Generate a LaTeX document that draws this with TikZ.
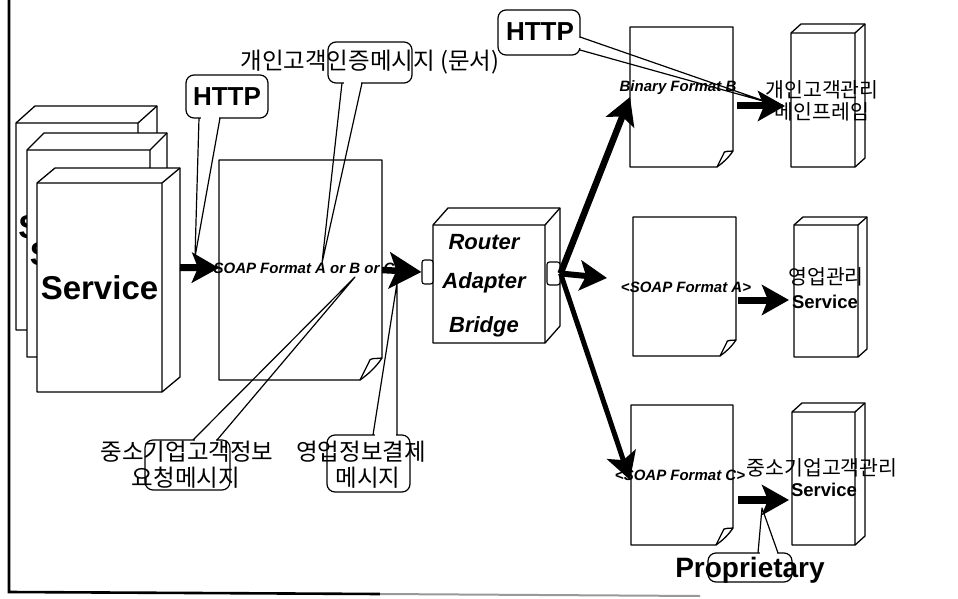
\documentclass[tikz,border=0pt]{standalone}
\usepackage{fontspec}
\setmainfont{Liberation Sans}
\newfontfamily\krfont{Noto Sans CJK KR}
\usetikzlibrary{arrows.meta,calc}

\newcommand\setfs[1]{\fontsize{#1}{#1}\selectfont}

% 3-D box: name, x1, y1, x2, y2 (front face), depth dx, depth dy
\newcommand\cuboid[7]{%
  \filldraw[outline,fill=white] (#2,#3) -- ({#2+#6},{#3-#7}) -- ({#4+#6},{#3-#7})
     -- ({#4+#6},{#5-#7}) -- (#4,#5) -- (#2,#5) -- cycle;
  \draw[outline] (#2,#3) -- (#4,#3) -- (#4,#5) (#4,#3) -- ({#4+#6},{#3-#7});
  \node[lbl, minimum width={(#4-#2)*1pt}, minimum height={(#5-#3)*1pt}] (#1)
     at ({(#2+#4)/2},{(#3+#5)/2}) {};
}

% sheet of paper with a folded corner: name, x1, y1, x2, y2, fold size
\newcommand\pagesheet[6]{%
  \filldraw[outline,fill=white] (#2,#3) -- (#4,#3) -- (#4,{#5-#6})
     .. controls ({#4-0.3*#6},{#5-0.55*#6}) and ({#4-0.65*#6},{#5-0.25*#6}) .. ({#4-#6},#5)
     -- (#2,#5) -- cycle;
  \draw[outline] (#4,{#5-#6}) .. controls ({#4-0.25*#6},{#5-0.95*#6}) and ({#4-0.6*#6},{#5-1.05*#6})
     .. ({#4-0.6*#6},{#5-0.8*#6}) -- ({#4-#6},#5);
  \node[lbl, minimum width={(#4-#2)*1pt}, minimum height={(#5-#3)*1pt}] (#1)
     at ({(#2+#4)/2},{(#3+#5)/2}) {};
}

\tikzset{
  outline/.style={line width=1.3pt, line join=round},
  callout/.style={line width=1.2pt, line join=round},
  lbl/.style={inner sep=0pt, outer sep=0pt},
  fat/.style={line width=#1, -{Stealth[length=27pt,width=30pt,inset=6pt]}},
  fat/.default=6.5pt,
  fatbig/.style={line width=6.5pt, -{Stealth[length=32pt,width=36pt,inset=7pt]}},
  port/.style={draw, line width=1.1pt, fill=white, rounded corners=2.5pt, inner sep=0pt},
  latin/.style={lbl, font=\bfseries\setfs{#1}},
  fmt/.style={lbl, font=\bfseries\itshape\setfs{#1}},
  kr/.style={lbl, font=\krfont\setfs{#1}},
}

\begin{document}
\begin{tikzpicture}[x=1pt,y=-1pt]
\useasboundingbox (0,0) rectangle (958,599);

% frame edge
\coordinate (ftop) at (9,0);
\coordinate (fcorner) at (9,592);
\coordinate (fmid) at (380,594);
\coordinate (fend) at (700,596);
\draw[line width=2.6pt] (ftop) -- (fcorner) -- (fmid);
\draw[line width=2pt, black!40] (fmid) -- (fend);

% stack of service boxes
\cuboid{svcA1}{16}{123}{138}{330}{19}{17}
\node[latin=33] (svcA1t) at (svcA1) {Service};
\cuboid{svcA2}{27}{150}{150}{357}{17}{17}
\node[latin=33] (svcA2t) at (svcA2) {Service};
\cuboid{svcA3}{37}{183}{162}{392}{18}{15}
\node[latin=33] (svcA3t) at (svcA3) {Service};

% message document
\pagesheet{doc1}{219}{160}{382}{380}{22}
\node[fmt=15] (soapABC) at (304,268) {SOAP Format A or B or C};

% router
\cuboid{router}{433}{225}{545}{343}{15}{17}
\node[fmt=22] (rt1) at (484,242) {Router};
\node[fmt=22] (rt2) at (484,283) {Adapter};
\node[fmt=22] (rt3) at (484,327) {Bridge};
\node[port, minimum width=11pt, minimum height=24pt] (portL) at (427.5,272) {};
\node[port, minimum width=13pt, minimum height=23pt] (portR) at (553.5,273.5) {};

% outgoing documents
\pagesheet{docB}{630}{27}{733}{167}{16}
\node[fmt=15] (binB) at (678,88) {Binary Format B};
\pagesheet{docA}{633}{217}{736}{356}{16}
\node[fmt=15] (soapA) at (686,287) {<SOAP Format A>};
\pagesheet{docC}{631}{405}{733}{545}{17}
\node[fmt=15] (soapC) at (680,475) {<SOAP Format C>};

% target services
\cuboid{svcR1}{791}{33}{855}{167}{10}{9}
\cuboid{svcR2}{794}{225}{858}{357}{9}{8}
\cuboid{svcR3}{792}{412}{855}{545}{10}{9}

% message flow
\draw[fat=7pt] ($(svcA3.east)+(18,-20)$) -- ($(doc1.west)+(0,-2)$);
\draw[fatbig] (doc1.east) -- (portL.west);
\draw[fat=6.5pt] (portR.east) -- (docB.west);
\draw[fat=6pt] (portR.east) -- ($(docA.west)+(-26,-8.5)$);
\draw[fat=5pt] (portR.east) -- ($(docC.west)+(-1,5)$);
\draw[fat=7pt] ($(docB.east)+(4,9)$) -- ($(svcR1.west)+(-6,6)$);
\draw[fat=7pt] ($(docA.east)+(2,13.5)$) -- ($(svcR2.west)+(-5,9)$);
\draw[fat=7.5pt] ($(docC.east)+(5,25)$) -- ($(svcR3.west)+(-3,21.5)$);

% callouts
\coordinate (tipH1) at (195,257);
\draw[callout, rounded corners=8pt] (186,75) rectangle (268,118);
\draw[white, line width=3pt] (200.5,118) -- (218.5,118);
\draw[callout] (199,118) -- (tipH1) -- (220,118);
\node[latin=26] (http1) at (227,97) {HTTP};

\coordinate (tipDoc) at (322,263);
\draw[callout, rounded corners=8pt] (328,42) rectangle (412,83);
\draw[white, line width=3pt] (343.5,83) -- (360.5,83);
\draw[callout] (342,83) -- (tipDoc) -- (362,83);

\coordinate (tipH2) at (770,103);
\draw[callout, rounded corners=8pt] (498,10) rectangle (580,55);
\draw[white, line width=3pt] (580,38.5) -- (580,48.5);
\draw[callout] (580,37) -- (tipH2) -- (580,50);
\node[latin=26] (http2) at (540,32) {HTTP};

\coordinate (tipReq) at (355,277);
\draw[callout, rounded corners=8pt] (145,440) rectangle (230,490);
\draw[white, line width=3pt] (194.5,440) -- (215.5,440);
\draw[callout] (193,440) -- (tipReq) -- (217,440);

\coordinate (tipPay) at (397,283);
\draw[callout, rounded corners=8pt] (327,435) rectangle (410,492);
\draw[white, line width=3pt] (374.5,435) -- (395.5,435);
\draw[callout] (373,435) -- (tipPay) -- (397,435);

\coordinate (tipProp) at (762,508);
\draw[callout, rounded corners=8pt] (708,553) rectangle (792,582);
\draw[white, line width=3pt] (759.5,553) -- (776.5,553);
\draw[callout] (758,553) -- (tipProp) -- (778,553);
\node[latin=28] (prop) at (750,570) {Proprietary};

% Korean labels
\node[kr=23.5] (authmsg) at (370,62) {개인고객인증메시지 (문서)};
\node[kr=23.5] (req1) at (187,452) {중소기업고객정보};
\node[kr=23.5] (req2) at (186,478) {요청메시지};
\node[kr=23.5] (pay1) at (361,452) {영업정보결제};
\node[kr=23.5] (pay2) at (368,478) {메시지};
\node[kr=20.5] (r1a) at (822,90) {개인고객관리};
\node[kr=20.5] (r1b) at (822,112) {메인프레임};
\node[kr=20.5] (r2a) at (826,277) {영업관리};
\node[latin=18.5] (r2b) at (825,302) {Service};
\node[kr=20.5] (r3a) at (822,468) {중소기업고객관리};
\node[latin=18.5] (r3b) at (824,490) {Service};
\end{tikzpicture}
\end{document}
